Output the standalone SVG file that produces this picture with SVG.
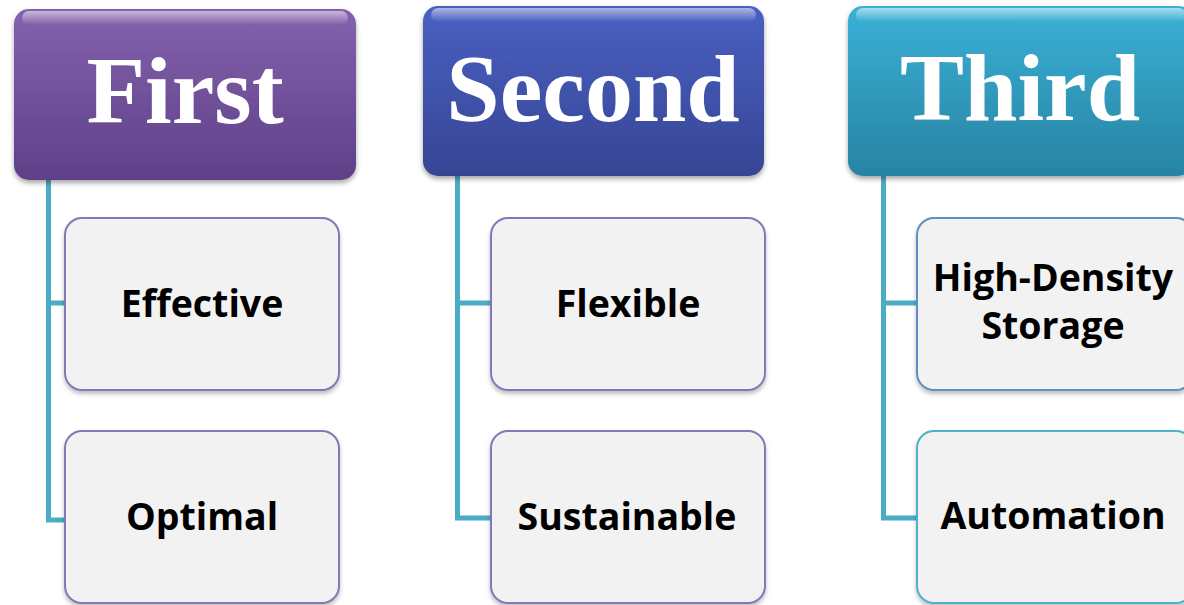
<svg xmlns="http://www.w3.org/2000/svg" width="1184" height="605" viewBox="0 0 1184 605">
<defs>
<linearGradient id="gP" x1="0" y1="0" x2="0" y2="1"><stop offset="0" stop-color="#8462ad"/><stop offset="1" stop-color="#5e4088"/></linearGradient>
<linearGradient id="gB" x1="0" y1="0" x2="0" y2="1"><stop offset="0" stop-color="#4a60c2"/><stop offset="1" stop-color="#364594"/></linearGradient>
<linearGradient id="gC" x1="0" y1="0" x2="0" y2="1"><stop offset="0" stop-color="#3ab0d6"/><stop offset="1" stop-color="#2784a3"/></linearGradient>
<linearGradient id="gHi" x1="0" y1="0" x2="0" y2="1"><stop offset="0" stop-color="#ffffff" stop-opacity="0.55"/><stop offset="1" stop-color="#ffffff" stop-opacity="0"/></linearGradient>
<filter id="sh" x="-10%" y="-10%" width="120%" height="125%"><feDropShadow dx="0" dy="3" stdDeviation="2.5" flood-color="#000" flood-opacity="0.35"/></filter>
<filter id="sh2" x="-10%" y="-10%" width="120%" height="125%"><feDropShadow dx="0" dy="3" stdDeviation="2" flood-color="#000" flood-opacity="0.25"/></filter>
</defs>
<style>
.hdr{filter:url(#sh)}
.ht{font-family:"Liberation Serif","Times New Roman",serif;font-weight:bold;font-size:96px;fill:#fff;text-anchor:middle}
.hi{fill:url(#gHi)}
.box{fill:#f2f2f2;stroke-width:2;filter:url(#sh2)}
.bp{stroke:#8677b6}
.bb{stroke:#5f8fc6}
.bc{stroke:#4fb2c9}
.bt{font-family:"Open Sans","DejaVu Sans",sans-serif;font-weight:bold;font-size:37.5px;fill:#000;text-anchor:middle}
.con{fill:none;stroke:#4bacc6;stroke-width:5}
</style>
<rect width="1184" height="605" fill="#fff"/>
<g id="connectors">
<path class="con" d="M48.5 178 V520 H66 M48.5 303 H66"/>
<path class="con" d="M457.5 175 V518 H492 M457.5 303 H492"/>
<path class="con" d="M883.5 175 V518 H918 M883.5 303 H918"/>
</g>
<g id="first">
<rect class="hdr" x="14" y="9" width="342" height="171" rx="15" fill="url(#gP)"/>
<rect class="hi" x="22" y="11" width="326" height="14" rx="7"/>
<text class="ht" x="185" y="123">First</text>
</g>
<g id="second">
<rect class="hdr" x="423" y="6" width="341" height="170" rx="15" fill="url(#gB)"/>
<rect class="hi" x="431" y="8" width="325" height="14" rx="7"/>
<text class="ht" x="593" y="121">Second</text>
</g>
<g id="third">
<rect class="hdr" x="848" y="6" width="345" height="170" rx="15" fill="url(#gC)"/>
<rect class="hi" x="856" y="8" width="330" height="14" rx="7"/>
<text class="ht" x="1020" y="120">Third</text>
</g>
<g id="effective">
<rect class="box bp" x="65" y="218" width="274" height="172" rx="17"/>
<text class="bt" x="202" y="317">Effective</text>
</g>
<g id="optimal">
<rect class="box bp" x="65" y="431" width="274" height="172" rx="17"/>
<text class="bt" x="202" y="530">Optimal</text>
</g>
<g id="flexible">
<rect class="box bp" x="491" y="218" width="274" height="172" rx="17"/>
<text class="bt" x="628" y="317">Flexible</text>
</g>
<g id="sustainable">
<rect class="box bp" x="491" y="431" width="274" height="172" rx="17"/>
<text class="bt" x="627" y="530">Sustainable</text>
</g>
<g id="storage">
<rect class="box bb" x="917" y="218" width="276" height="172" rx="17"/>
<text class="bt" x="1053" y="291">High-Density</text>
<text class="bt" x="1053" y="339">Storage</text>
</g>
<g id="automation">
<rect class="box bc" x="917" y="431" width="276" height="172" rx="17"/>
<text class="bt" x="1053" y="529">Automation</text>
</g>
</svg>
